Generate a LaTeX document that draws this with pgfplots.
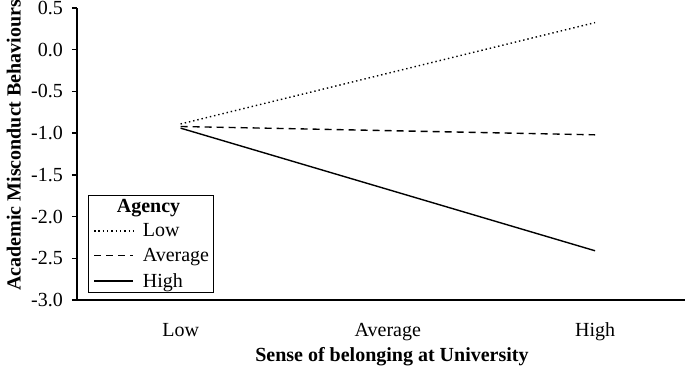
\documentclass[border=0pt]{standalone}
\usepackage{fontspec}
\setmainfont{Liberation Serif}
\usepackage{pgfplots}
\pgfplotsset{compat=1.18}
\newcommand{\bigf}{\fontsize{20bp}{24bp}\selectfont}
\begin{document}
\begin{tikzpicture}[font=\bigf]
\begin{axis}[
  name=ax, at={(0,0)}, anchor=south west,
  scale only axis, width=608bp, height=292bp,
  xmin=-0.5, xmax=2.434, ymin=-3, ymax=0.5,
  axis x line=bottom, axis y line=left,
  axis line style={-, line width=1.3bp},
  xtick={0,1,2}, xticklabels={Low,Average,High},
  ytick={-3,-2.5,-2,-1.5,-1,-0.5,0,0.5},
  yticklabels={-3.0,-2.5,-2.0,-1.5,-1.0,-0.5,0.0,0.5},
  tick align=outside, major tick length=5bp,
  xtick style={draw=none},
  ytick style={line width=1.3bp, black},
  xticklabel style={font=\bigf, anchor=base, yshift=-31bp},
  yticklabel style={font=\bigf, anchor=east, inner sep=0pt, xshift=-9bp},
  xlabel={\textbf{Sense of belonging at University}},
  ylabel={\textbf{Academic Misconduct Behaviours}},
  label style={font=\bigf},
  xlabel style={at={(axis description cs:0.518,-0.212)}, anchor=base},
  ylabel style={at={(axis description cs:-0.104,0.53)}, anchor=center, rotate=0},
  legend style={at={(axis description cs:0.018,0.024)}, anchor=south west,
    draw=black, line width=1bp, font=\bigf, nodes={font=\bigf},
    inner xsep=2bp, inner ysep=2bp, row sep=6bp, column sep=7bp},
  legend cell align=left,
  legend image code/.code={\path (0bp,0bp); \draw[#1] (3bp,0bp) -- (42bp,0bp);},
]
\addlegendimage{empty legend}
\addlegendentry{\hspace*{-26bp}\textbf{Agency}\rule[-6bp]{0pt}{1bp}}
\addplot[black, line width=1.4bp, dash pattern=on 1.4bp off 2.9bp] coordinates {(0,-0.89) (2,0.325)};
\addlegendentry{Low}
\addplot[black, line width=1.4bp, dash pattern=on 7bp off 5bp] coordinates {(0,-0.92) (2,-1.02)};
\addlegendentry{Average}
\addplot[black, line width=1.4bp] coordinates {(0,-0.94) (2,-2.41)};
\addlegendentry{High}
\end{axis}
\pgfresetboundingbox
\path (-77bp,-67bp) rectangle (608bp,300bp);
\end{tikzpicture}
\end{document}
